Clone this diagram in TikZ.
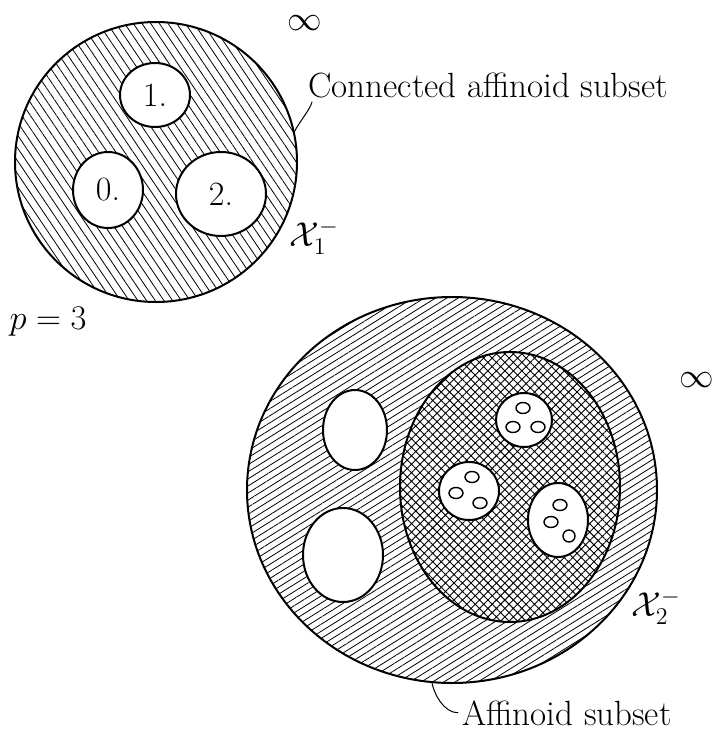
\documentclass[tikz,border=0pt]{standalone}
\usetikzlibrary{patterns.meta,shapes.geometric}
\begin{document}
\begin{tikzpicture}[x=0.5pt,y=-0.5pt,line cap=round,line join=round,
  outline/.style={draw,line width=1pt,ellipse,inner sep=0pt,outer sep=0pt},
  hole/.style={outline,fill=white,font=\fontsize{17}{20}\selectfont},
  speck/.style={draw,line width=0.7pt,ellipse,inner sep=0pt,outer sep=0pt,
    fill=white,minimum width=7pt,minimum height=5.5pt},
  lbl/.style={font=\fontsize{17.5}{21}\selectfont,inner sep=0pt}]
  \useasboundingbox (0,0) rectangle (718,740);

  % connected affinoid
  \node[outline,minimum width=141pt,minimum height=140pt,
    pattern={Lines[angle=-56,distance=3.6pt,line width=0.4pt]}] (disk1) at (156,162) {};
  \node[hole,minimum width=35pt,minimum height=32pt] (h1) at (155,95) {1.};
  \node[hole,minimum width=35pt,minimum height=38pt] (h0) at (108,190) {0.};
  \node[hole,minimum width=45pt,minimum height=42pt] (h2) at (221,194) {2.};

  \node[lbl] (inf1) at (305,23) {$\infty$};
  \node[lbl,anchor=base west] (conn) at (308,97) {Connected affinoid subset};
  \node[lbl] (x1) at (314,237) {$\mathcal{X}_1^-$};
  \node[lbl] (p) at (48,322) {$p=3$};
  \draw[line width=0.5pt] (disk1.12) .. controls +(6,-12) and +(-2,8) .. ([xshift=2pt,yshift=-2pt]conn.south west);

  % affinoid
  \node[outline,minimum width=205pt,minimum height=193pt,
    pattern={Lines[angle=32,distance=3pt,line width=0.4pt]}] (ring) at (452,490) {};
  \node[outline,minimum width=110pt,minimum height=135pt,preaction={fill=white},
    pattern={Hatch[angle=45,distance=3pt,line width=0.45pt]}] (core) at (510,487) {};
  \node[hole,minimum width=32pt,minimum height=40pt] (ha) at (355,430) {};
  \node[hole,minimum width=40pt,minimum height=47pt] (hb) at (343,555) {};
  \node[hole,minimum width=28pt,minimum height=27pt] (ca) at (524,420) {};
  \node[hole,minimum width=30pt,minimum height=29pt] (cb) at (469,491) {};
  \node[hole,minimum width=30pt,minimum height=37pt] (cc) at (558,520) {};

  \node[speck] (ca1) at (523,408) {};
  \node[speck] (ca2) at (513,427) {};
  \node[speck] (ca3) at (538,427) {};
  \node[speck] (cb1) at (472,477) {};
  \node[speck] (cb2) at (456,493) {};
  \node[speck] (cb3) at (480,503) {};
  \node[speck] (cc1) at (560,505) {};
  \node[speck] (cc2) at (551,522) {};
  \node[speck,minimum width=6pt,minimum height=6pt] (cc3) at (569,536) {};

  \node[lbl] (x2) at (656,607) {$\mathcal{X}_2^-$};
  \node[lbl] (inf2) at (697,380) {$\infty$};
  \node[lbl,anchor=base west] (aff) at (462,725) {Affinoid subset};
  \draw[line width=0.5pt] (ring.-96) .. controls +(2,12) and +(-14,0) .. ([xshift=-2pt]aff.west);
\end{tikzpicture}
\end{document}
